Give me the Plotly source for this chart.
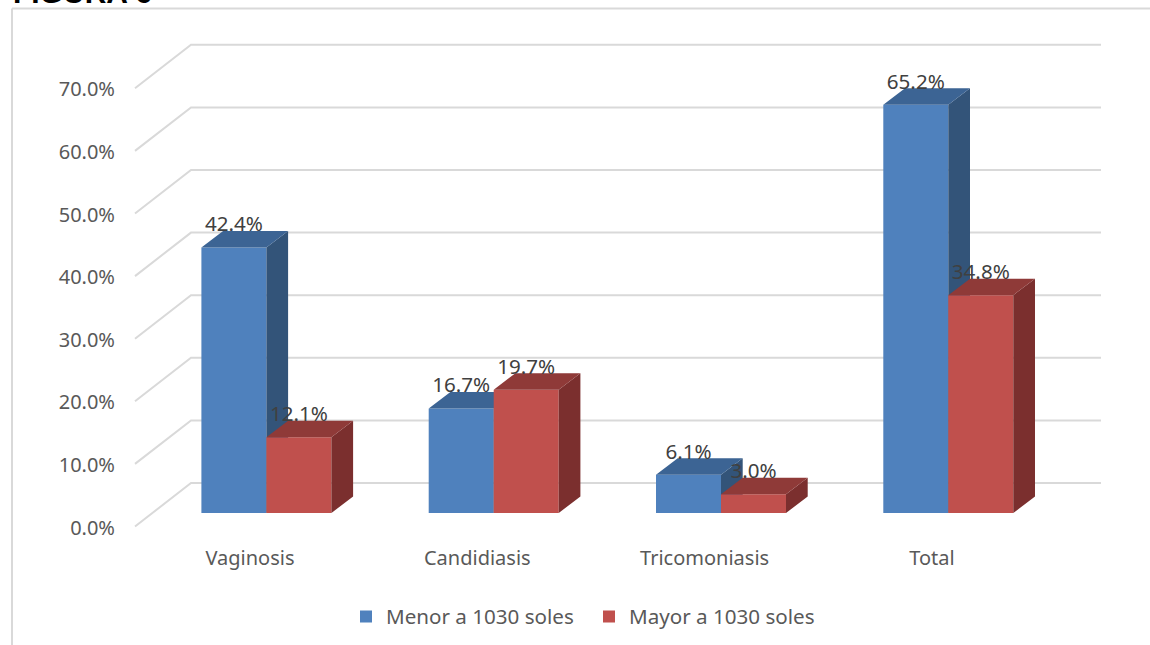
import plotly.graph_objects as go

categories = ["Vaginosis", "Candidiasis", "Tricomoniasis", "Total"]
menor = [42.4, 16.7, 6.1, 65.2]
mayor = [12.1, 19.7, 3.0, 34.8]
series_names = ["Menor a 1030 soles", "Mayor a 1030 soles"]
y_ticks = [0, 10, 20, 30, 40, 50, 60, 70]
y_tick_labels = ["0.0%", "10.0%", "20.0%", "30.0%", "40.0%", "50.0%", "60.0%", "70.0%"]
title_text = "<b>FIGURA 6</b>"

W, H = 1150, 645
PX_PER_CAT = 227.3
PX_PER_PCT = 6.26
X0_PX = 250.0          # pixel of first category label
AX_Y0 = 526.5          # pixel of 0 % at front of the floor
BAR_Y0 = 513.0         # pixel of 0 % at the bars' front plane
BAR_W = 65 / PX_PER_CAT
SHIFT = 16.4 / PX_PER_CAT
BAR_DX, BAR_DY = 21.7 / PX_PER_CAT, 16.5 / PX_PER_PCT
GRID_DX, GRID_DY = 56 / PX_PER_CAT, 43.5 / PX_PER_PCT
GRID_X0 = (135 - X0_PX) / PX_PER_CAT
GRID_X1 = (1101 - X0_PX) / PX_PER_CAT
LABEL_LIFT = 11 / PX_PER_PCT

GREY = "#595959"
GRID = "#D9D9D9"
FONT = "Noto Sans"
BLUE = ("#4F81BD", "#3C6494", "#335479")
RED = ("#C0504D", "#8F3A38", "#7B2F2E")


def yrange(y0):
    return [(y0 - H) / PX_PER_PCT, y0 / PX_PER_PCT]


def faces(xs, vals):
    tx, ty, sx, sy = [], [], [], []
    for x, v in zip(xs, vals):
        a, b = x - BAR_W / 2, x + BAR_W / 2
        tx += [a, b, b + BAR_DX, a + BAR_DX, a, None]
        ty += [v, v, v + BAR_DY, v + BAR_DY, v, None]
        sx += [b, b + BAR_DX, b + BAR_DX, b, b, None]
        sy += [0, BAR_DY, v + BAR_DY, v, 0, None]
    return tx, ty, sx, sy


def poly(x, y, color, yaxis):
    return go.Scatter(x=x, y=y, mode="lines", fill="toself", fillcolor=color,
                      line=dict(width=0, color=color), showlegend=False,
                      hoverinfo="skip", yaxis=yaxis, xaxis="x")


fig = go.Figure()

# perspective gridlines
gx, gy = [], []
for t in y_ticks:
    gx += [GRID_X0, GRID_X0 + GRID_DX, GRID_X1, None]
    gy += [t, t + GRID_DY, t + GRID_DY, None]
fig.add_trace(go.Scatter(x=gx, y=gy, mode="lines", line=dict(color=GRID, width=2),
                         showlegend=False, hoverinfo="skip", yaxis="y", xaxis="x"))

idx = list(range(len(categories)))
blue_x = [i + SHIFT - BAR_W / 2 for i in idx]
red_x = [i + SHIFT + BAR_W / 2 for i in idx]

for name, xs, vals, cols, ya in [(series_names[0], blue_x, menor, BLUE, "y2"),
                                 (series_names[1], red_x, mayor, RED, "y3")]:
    fig.add_trace(go.Bar(x=xs, y=vals, width=BAR_W, name=name, marker=dict(color=cols[0], line=dict(width=0)),
                         yaxis=ya, xaxis="x", hoverinfo="skip"))
    tx, ty, sx, sy = faces(xs, vals)
    fig.add_trace(poly(sx, sy, cols[2], ya))
    fig.add_trace(poly(tx, ty, cols[1], ya))

fig.add_trace(go.Scatter(x=blue_x + red_x, y=[v + LABEL_LIFT for v in menor + mayor], mode="text",
                         text=[f"{v:.1f}%" for v in menor + mayor],
                         textposition="top center",
                         textfont=dict(family=FONT, size=20.6, color="#404040"),
                         showlegend=False, hoverinfo="skip", yaxis="y3", xaxis="x"))

hidden = dict(showgrid=False, zeroline=False, showticklabels=False, showline=False,
              ticks="", overlaying="y", domain=[0, 1], fixedrange=True)

fig.update_layout(
    width=W, height=H, margin=dict(l=0, r=0, t=0, b=0), autosize=False,
    paper_bgcolor="white", plot_bgcolor="rgba(0,0,0,0)",
    font=dict(family=FONT, size=20, color=GREY),
    xaxis=dict(range=[(0 - X0_PX) / PX_PER_CAT, (W - X0_PX) / PX_PER_CAT], domain=[0, 1],
               tickmode="array", tickvals=idx, ticktext=categories, anchor="free",
               position=(H - 544) / H, showgrid=False, zeroline=False, showline=False,
               ticks="", tickfont=dict(family=FONT, size=20, color=GREY)),
    yaxis=dict(range=yrange(AX_Y0), domain=[0, 1], tickmode="array", tickvals=y_ticks,
               ticktext=y_tick_labels, anchor="free", position=115 / W, ticklabelshift=1,
               side="left", showgrid=False, zeroline=False, showline=False, ticks="",
               tickfont=dict(family=FONT, size=20, color=GREY)),
    yaxis2=dict(range=yrange(BAR_Y0), **hidden),
    yaxis3=dict(range=yrange(BAR_Y0), **hidden),
    showlegend=True,
    legend=dict(orientation="h", x=346 / W, xanchor="left", y=(H - 616.5) / H, yanchor="middle",
                font=dict(family=FONT, size=20.6, color=GREY), bgcolor="rgba(0,0,0,0)",
                entrywidth=198, entrywidthmode="pixels"),
    shapes=[
        dict(type="line", xref="paper", yref="paper", x0=12 / W, x1=12 / W, y0=0, y1=(H - 8.5) / H,
             line=dict(color=GRID, width=2)),
        dict(type="line", xref="paper", yref="paper", x0=12 / W, x1=1, y0=(H - 8.5) / H, y1=(H - 8.5) / H,
             line=dict(color=GRID, width=2)),
    ],
    annotations=[dict(text=title_text, xref="paper", yref="paper", x=11 / W, y=(H - 3) / H,
                      xanchor="left", yanchor="bottom", yshift=-8, showarrow=False,
                      font=dict(family="Liberation Sans", size=30, color="#000000"))],
)

fig.write_html("out.html", post_script="document.body.style.margin='0';",
               config=dict(displayModeBar=False))
